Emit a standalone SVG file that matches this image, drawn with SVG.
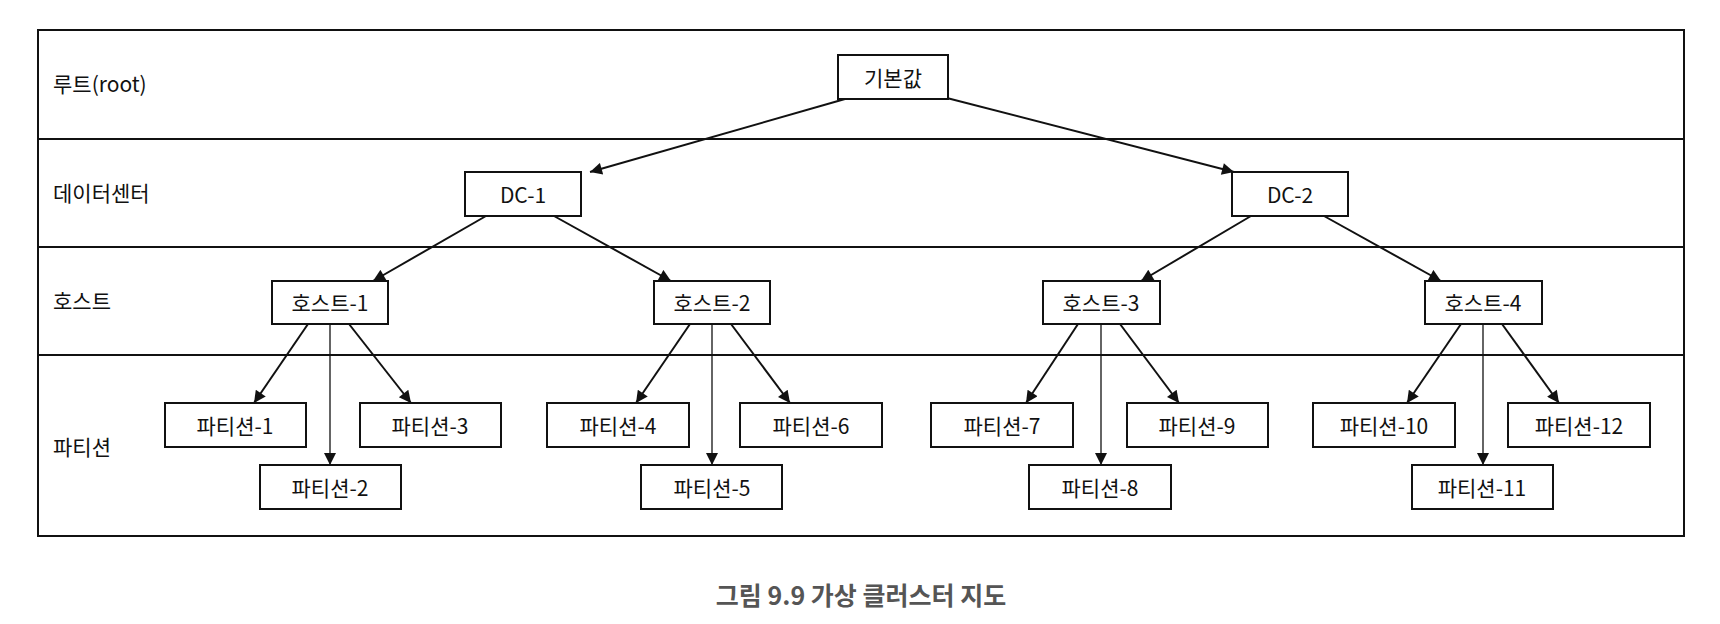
<svg xmlns="http://www.w3.org/2000/svg" width="1720" height="624" viewBox="0 0 1720 624">
<style>
.n rect{fill:#fff;stroke:#111;stroke-width:2}
text{font-family:"Noto Sans CJK KR","Noto Sans",sans-serif;font-size:21px;fill:#111}
.n text{text-anchor:middle;dominant-baseline:central}
.lbl{dominant-baseline:central}
.c line{stroke:#111;stroke-width:2;marker-end:url(#a)}
.cap{font-size:25px;fill:#555;font-weight:bold;text-anchor:middle}
</style>
<defs><marker id="a" viewBox="0 0 10 10" refX="10" refY="5" markerWidth="14" markerHeight="12" orient="auto" markerUnits="userSpaceOnUse"><path d="M0,0L10,5L0,10z" fill="#111"/></marker></defs>
<rect width="1720" height="624" fill="#fff"/>
<g id="lanes" fill="none" stroke="#111" stroke-width="2">
<rect x="38" y="30" width="1646" height="506"/>
<line x1="38" y1="139" x2="1684" y2="139"/><line x1="38" y1="247" x2="1684" y2="247"/><line x1="38" y1="355" x2="1684" y2="355"/>
</g>
<g id="lane-labels">
<text class="lbl" x="53" y="83">루트(root)</text>
<text class="lbl" x="53" y="192">데이터센터</text>
<text class="lbl" x="53" y="300">호스트</text>
<text class="lbl" x="53" y="446">파티션</text>
</g>
<g id="connectors" class="c">
<line x1="845" y1="99" x2="590" y2="172"/><line x1="943" y1="97" x2="1234" y2="172"/>
<line x1="486" y1="216" x2="373" y2="281"/><line x1="554" y1="216" x2="671" y2="281"/>
<line x1="1251" y1="216" x2="1141" y2="281"/><line x1="1324" y1="216" x2="1441" y2="281"/>
<line x1="308" y1="324" x2="254" y2="403"/><line x1="330" y1="324" x2="330" y2="465" style="stroke-width:1.3"/><line x1="349" y1="324" x2="411" y2="403"/>
<line x1="690" y1="324" x2="636" y2="403"/><line x1="712" y1="324" x2="712" y2="465" style="stroke-width:1.3"/><line x1="731" y1="324" x2="790" y2="403"/>
<line x1="1078" y1="324" x2="1026" y2="403"/><line x1="1101" y1="324" x2="1101" y2="465" style="stroke-width:1.3"/><line x1="1120" y1="324" x2="1179" y2="403"/>
<line x1="1461" y1="324" x2="1407" y2="403"/><line x1="1483" y1="324" x2="1483" y2="465" style="stroke-width:1.3"/><line x1="1502" y1="324" x2="1559" y2="403"/>
</g>
<g id="root" class="n"><rect x="838" y="55" width="110" height="44"/><text x="893" y="77">기본값</text></g>
<g id="dc1" class="n"><rect x="465" y="172" width="116" height="44"/><text x="523" y="194">DC-1</text></g>
<g id="dc2" class="n"><rect x="1232" y="172" width="116" height="44"/><text x="1290" y="194">DC-2</text></g>
<g id="h1" class="n"><rect x="272" y="281" width="116" height="43"/><text x="330" y="302">호스트-1</text></g>
<g id="h2" class="n"><rect x="654" y="281" width="116" height="43"/><text x="712" y="302">호스트-2</text></g>
<g id="h3" class="n"><rect x="1043" y="281" width="117" height="43"/><text x="1101" y="302">호스트-3</text></g>
<g id="h4" class="n"><rect x="1425" y="281" width="117" height="43"/><text x="1483" y="302">호스트-4</text></g>
<g id="p1" class="n"><rect x="165" y="403" width="141" height="44"/><text x="235" y="425">파티션-1</text></g>
<g id="p2" class="n"><rect x="260" y="465" width="141" height="44"/><text x="330" y="487">파티션-2</text></g>
<g id="p3" class="n"><rect x="360" y="403" width="141" height="44"/><text x="430" y="425">파티션-3</text></g>
<g id="p4" class="n"><rect x="547" y="403" width="142" height="44"/><text x="618" y="425">파티션-4</text></g>
<g id="p5" class="n"><rect x="641" y="465" width="141" height="44"/><text x="712" y="487">파티션-5</text></g>
<g id="p6" class="n"><rect x="740" y="403" width="142" height="44"/><text x="811" y="425">파티션-6</text></g>
<g id="p7" class="n"><rect x="931" y="403" width="142" height="44"/><text x="1002" y="425">파티션-7</text></g>
<g id="p8" class="n"><rect x="1029" y="465" width="142" height="44"/><text x="1100" y="487">파티션-8</text></g>
<g id="p9" class="n"><rect x="1127" y="403" width="141" height="44"/><text x="1197" y="425">파티션-9</text></g>
<g id="p10" class="n"><rect x="1313" y="403" width="142" height="44"/><text x="1384" y="425">파티션-10</text></g>
<g id="p11" class="n"><rect x="1412" y="465" width="141" height="44"/><text x="1482" y="487">파티션-11</text></g>
<g id="p12" class="n"><rect x="1508" y="403" width="142" height="44"/><text x="1579" y="425">파티션-12</text></g>
<text class="cap" x="861" y="605">그림 9.9 가상 클러스터 지도</text>
</svg>
